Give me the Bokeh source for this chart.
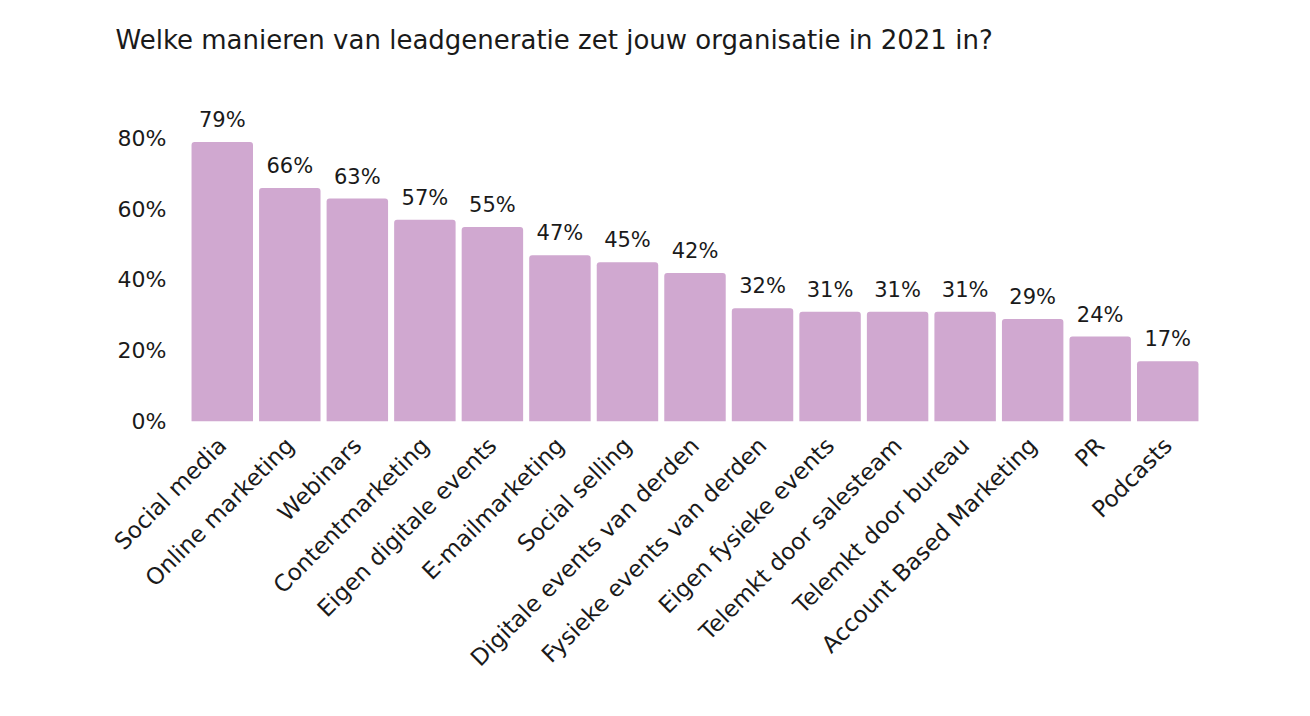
import math
from bokeh.plotting import figure
from bokeh.models import ColumnDataSource, NumeralTickFormatter, FixedTicker, LabelSet
from bokeh.core.properties import value
from bokeh.embed import file_html
from bokeh.resources import INLINE

title_text = "Welke manieren van leadgeneratie zet jouw organisatie in 2021 in?"
categories = ["Social media", "Online marketing", "Webinars", "Contentmarketing",
              "Eigen digitale events", "E-mailmarketing", "Social selling",
              "Digitale events van derden", "Fysieke events van derden",
              "Eigen fysieke events", "Telemkt door salesteam", "Telemkt door bureau",
              "Account Based Marketing", "PR", "Podcasts"]
values = [79, 66, 63, 57, 55, 47, 45, 42, 32, 31, 31, 31, 29, 24, 17]
y_ticks = [0, 20, 40, 60, 80]

FONT = "DejaVu Sans"
BAR = "#d0a8d0"
TXT = "#1a1a1a"

src = ColumnDataSource(dict(cat=categories, val=[v / 100 for v in values],
                            lab=[f"{v}%" for v in values]))

p = figure(x_range=categories, y_range=(0, 0.975), width=1294, height=700,
           output_backend="svg", toolbar_location=None,
           min_border_left=188, min_border_right=93, min_border_top=76,
           min_border_bottom=279)
p.outline_line_color = None
p.background_fill_color = "white"
p.border_fill_color = "white"

p.vbar(x="cat", top="val", width=0.91, source=src, fill_color=BAR, line_color=None,
       border_radius=(3, 3, 0, 0))

labels = LabelSet(x="cat", y="val", text="lab", source=src, text_align="center",
                  text_baseline="bottom", y_offset=10, text_font=value(FONT),
                  text_font_size="21px", text_color=TXT)
p.add_layout(labels)

p.title.text = title_text
p.title.text_font = FONT
p.title.text_font_size = "26px"
p.title.text_font_style = "normal"
p.title.text_color = TXT
p.title.align = "left"
p.title.offset = -73
p.title.standoff = 44

p.xgrid.grid_line_color = None
p.ygrid.grid_line_color = None

p.yaxis.ticker = FixedTicker(ticks=[t / 100 for t in y_ticks])
p.yaxis.formatter = NumeralTickFormatter(format="0%")
for ax in (p.xaxis, p.yaxis):
    ax.axis_line_color = None
    ax.major_tick_line_color = None
    ax.minor_tick_line_color = None
    ax.major_label_text_font = FONT
    ax.major_label_text_color = TXT
p.yaxis.major_label_text_font_size = "22px"
p.xaxis.major_label_text_font_size = "23px"
p.yaxis.major_label_standoff = 16
p.xaxis.major_label_orientation = math.pi / 4
p.xaxis.major_label_standoff = 14

open("out.html", "w").write(file_html(p, INLINE))
